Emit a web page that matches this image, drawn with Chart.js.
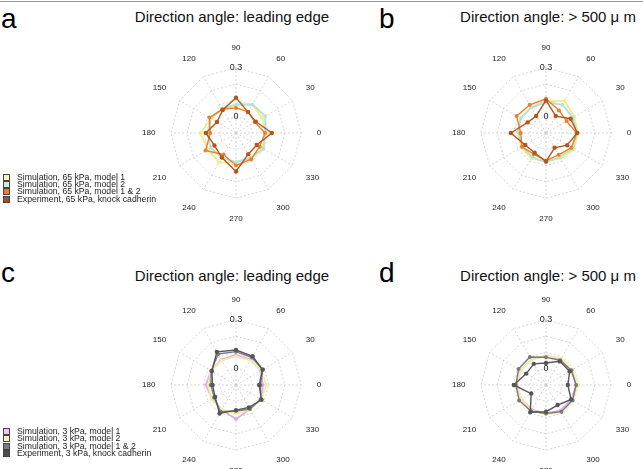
<!DOCTYPE html>
<html>
<head>
<meta charset="utf-8">
<script src="https://cdn.jsdelivr.net/npm/chart.js@4"></script>
<style>
  body { margin: 0; background: #fff; font-family: "Liberation Sans", Arial, sans-serif; }
  #page { position: relative; width: 643px; height: 469px; overflow: hidden; }
  .rule { position: absolute; left: 0; top: 1px; width: 643px; height: 1px; background: #999; }
  .letter { position: absolute; font-size: 28px; line-height: 28px; color: #000; }
  .title { position: absolute; font-size: 15px; line-height: 16px; white-space: nowrap; transform: translateX(-50%); color: #111; }
  .box { position: absolute; width: 189px; height: 189px; }
  .legend { position: absolute; left: 2px; font-size: 8.7px; color: #222; }
  .legend div { position: relative; padding-left: 15px; height: 7.35px; line-height: 7.35px; white-space: nowrap; }
  .legend span { position: absolute; left: 1px; top: 0px; width: 5px; height: 5px; border: 1px solid #444; }
</style>
</head>
<body>
<div id="page">
  <div class="rule"></div>

  <div class="letter" style="left:1px;top:5px;">a</div>
  <div class="letter" style="left:379px;top:5px;">b</div>
  <div class="letter" style="left:1px;top:259px;">c</div>
  <div class="letter" style="left:379px;top:259px;">d</div>

  <div class="title" style="left:232px;top:9px;">Direction angle: leading edge</div>
  <div class="title" style="left:548px;top:9px;">Direction angle: &gt; 500 μ m</div>
  <div class="title" style="left:232px;top:268px;">Direction angle: leading edge</div>
  <div class="title" style="left:548px;top:268px;">Direction angle: &gt; 500 μ m</div>

  <div class="box" id="boxA"><canvas id="chartA" width="189" height="189"></canvas></div>
  <div class="box" id="boxB"><canvas id="chartB" width="189" height="189"></canvas></div>
  <div class="box" id="boxC"><canvas id="chartC" width="189" height="189"></canvas></div>
  <div class="box" id="boxD"><canvas id="chartD" width="189" height="189"></canvas></div>

  <div class="legend" id="legendA" style="top:173.5px;"></div>
  <div class="legend" id="legendC" style="top:428px;"></div>
</div>

<script>
// angle bins, clockwise from the top as the radar draws them
var angleLabels = ["90", "60", "30", "0", "330", "300", "270", "240", "210", "180", "150", "120"];
var radiusTicks = [0, 0.3];

// panel a: 65 kPa, leading edge
var aModel1 = [0.070, 0.100, 0.085, 0.085, 0.085, 0.075, 0.080, 0.110, 0.100, 0.120, 0.075, 0.070];
var aModel2 = [0.075, 0.102, 0.108, 0.080, 0.095, 0.078, 0.078, 0.075, 0.080, 0.075, 0.080, 0.070];
var aModel12 = [0.054, 0.050, 0.033, 0.078, 0.068, 0.086, 0.099, 0.053, 0.115, 0.058, 0.089, 0.068];
var aExperiment = [0.117, 0.048, 0.040, 0.120, 0.047, 0.050, 0.136, 0.074, 0.053, 0.085, 0.035, 0.063];

// panel b: 65 kPa, > 500 um
var bModel1 = [0.095, 0.130, 0.100, 0.095, 0.100, 0.080, 0.075, 0.080, 0.075, 0.075, 0.080, 0.085];
var bModel2 = [0.090, 0.100, 0.090, 0.090, 0.090, 0.070, 0.080, 0.070, 0.070, 0.070, 0.080, 0.080];
var bModel12 = [0.110, 0.060, 0.046, 0.088, 0.080, 0.055, 0.070, 0.050, 0.070, 0.055, 0.108, 0.100];
var bExperiment = [0.100, 0.020, 0.075, 0.092, 0.050, 0.005, 0.075, 0.040, 0.047, 0.116, 0.030, 0.021];

// panel c: 3 kPa, leading edge
var cModel1 = [0.085, 0.080, 0.075, 0.065, 0.080, 0.070, 0.110, 0.075, 0.070, 0.085, 0.075, 0.080];
var cModel2 = [0.075, 0.075, 0.080, 0.085, 0.080, 0.075, 0.075, 0.075, 0.075, 0.070, 0.075, 0.075];
var cModel12 = [0.105, 0.095, 0.090, 0.050, 0.075, 0.070, 0.060, 0.090, 0.055, 0.055, 0.075, 0.120];
var cExperiment = [0.115, 0.104, 0.088, 0.042, 0.081, 0.059, 0.054, 0.102, 0.048, 0.044, 0.071, 0.135];

// panel d: 3 kPa, > 500 um
var dModel1 = [0.080, 0.080, 0.080, 0.085, 0.080, 0.080, 0.075, 0.075, 0.075, 0.080, 0.080, 0.080];
var dModel2 = [0.080, 0.090, 0.085, 0.100, 0.085, 0.090, 0.080, 0.080, 0.075, 0.075, 0.080, 0.080];
var dModel12 = [0.070, 0.075, 0.080, 0.085, 0.088, 0.089, 0.075, 0.085, 0.090, 0.085, 0.095, 0.099];
var dExperiment = [0.035, 0.068, 0.068, 0.034, 0.078, 0.042, 0.064, 0.093, 0.005, 0.098, 0.040, 0.050];

var legendA = ["Simulation, 65 kPa, model 1", "Simulation, 65 kPa, model 2", "Simulation, 65 kPa, model 1 & 2", "Experiment, 65 kPa, knock cadherin"];
var legendC = ["Simulation, 3 kPa, model 1", "Simulation, 3 kPa, model 2", "Simulation, 3 kPa, model 1 & 2", "Experiment, 3 kPa, knock cadherin"];

var warmLines = ["#eeee8c", "#b4e2d6", "#ef7d2a", "#b4561a"];
var warmBoxes = ["#f6f6bc", "#cfeae2", "#ee7f30", "#a8501c"];
var greyLines = ["#e2a8f0", "#eef0a8", "#7a7a7a", "#565656"];
var greyBoxes = ["#ecc8f2", "#f2f2c0", "#7c7c7c", "#4e4e4e"];

var fontFamily = '"Liberation Sans", Arial, sans-serif';

// panel centres on the page
var centres = { A: [236, 133], B: [546, 133], C: [236, 385], D: [546, 385] };

// chart.js puts the radar centre at (98, 94) in a 189px canvas with these label sizes
function placeBox(id, c) {
  var el = document.getElementById("box" + id);
  el.style.left = (c[0] - 98) + "px";
  el.style.top = (c[1] - 94) + "px";
}

function series(data, color, width, radius, order) {
  return {
    data: data,
    borderColor: color,
    backgroundColor: color,
    pointBackgroundColor: color,
    pointBorderColor: color,
    pointBorderWidth: 0,
    borderWidth: width,
    pointRadius: radius,
    pointHoverRadius: radius,
    fill: false,
    order: order
  };
}

function radar(canvasId, sets, colors) {
  var ctx = document.getElementById(canvasId).getContext("2d");
  return new Chart(ctx, {
    type: "radar",
    data: {
      labels: angleLabels,
      datasets: [
        series(sets[0], colors[0], 1.8, 1.8, 3),
        series(sets[1], colors[1], 1.8, 1.8, 2),
        series(sets[2], colors[2], 1.4, 2, 1),
        series(sets[3], colors[3], 1.4, 2.2, 0)
      ]
    },
    options: {
      responsive: false,
      animation: false,
      layout: { padding: 0 },
      plugins: { legend: { display: false }, tooltip: { enabled: false } },
      scales: {
        r: {
          min: -0.1,
          max: 0.3,
          ticks: {
            stepSize: 0.1,
            showLabelBackdrop: false,
            color: "#222",
            font: { size: 9, family: fontFamily },
            callback: function (v) {
              for (var i = 0; i < radiusTicks.length; i++) {
                if (Math.abs(v - radiusTicks[i]) < 1e-6) return String(radiusTicks[i]);
              }
              return "";
            }
          },
          grid: { color: "#cccccc", lineWidth: 0.8 },
          border: { dash: [2, 2] },
          angleLines: { color: "#cccccc", lineWidth: 0.8, borderDash: [2, 2] },
          pointLabels: { font: { size: 8, family: fontFamily }, color: "#222", padding: 9 }
        }
      }
    }
  });
}

function buildLegend(id, names, boxes) {
  var el = document.getElementById(id);
  names.forEach(function (name, i) {
    var row = document.createElement("div");
    var sw = document.createElement("span");
    sw.style.background = boxes[i];
    row.appendChild(sw);
    row.appendChild(document.createTextNode(name));
    el.appendChild(row);
  });
}

Object.keys(centres).forEach(function (k) { placeBox(k, centres[k]); });

radar("chartA", [aModel1, aModel2, aModel12, aExperiment], warmLines);
radar("chartB", [bModel1, bModel2, bModel12, bExperiment], warmLines);
radar("chartC", [cModel1, cModel2, cModel12, cExperiment], greyLines);
radar("chartD", [dModel1, dModel2, dModel12, dExperiment], greyLines);

buildLegend("legendA", legendA, warmBoxes);
buildLegend("legendC", legendC, greyBoxes);
</script>
</body>
</html>
